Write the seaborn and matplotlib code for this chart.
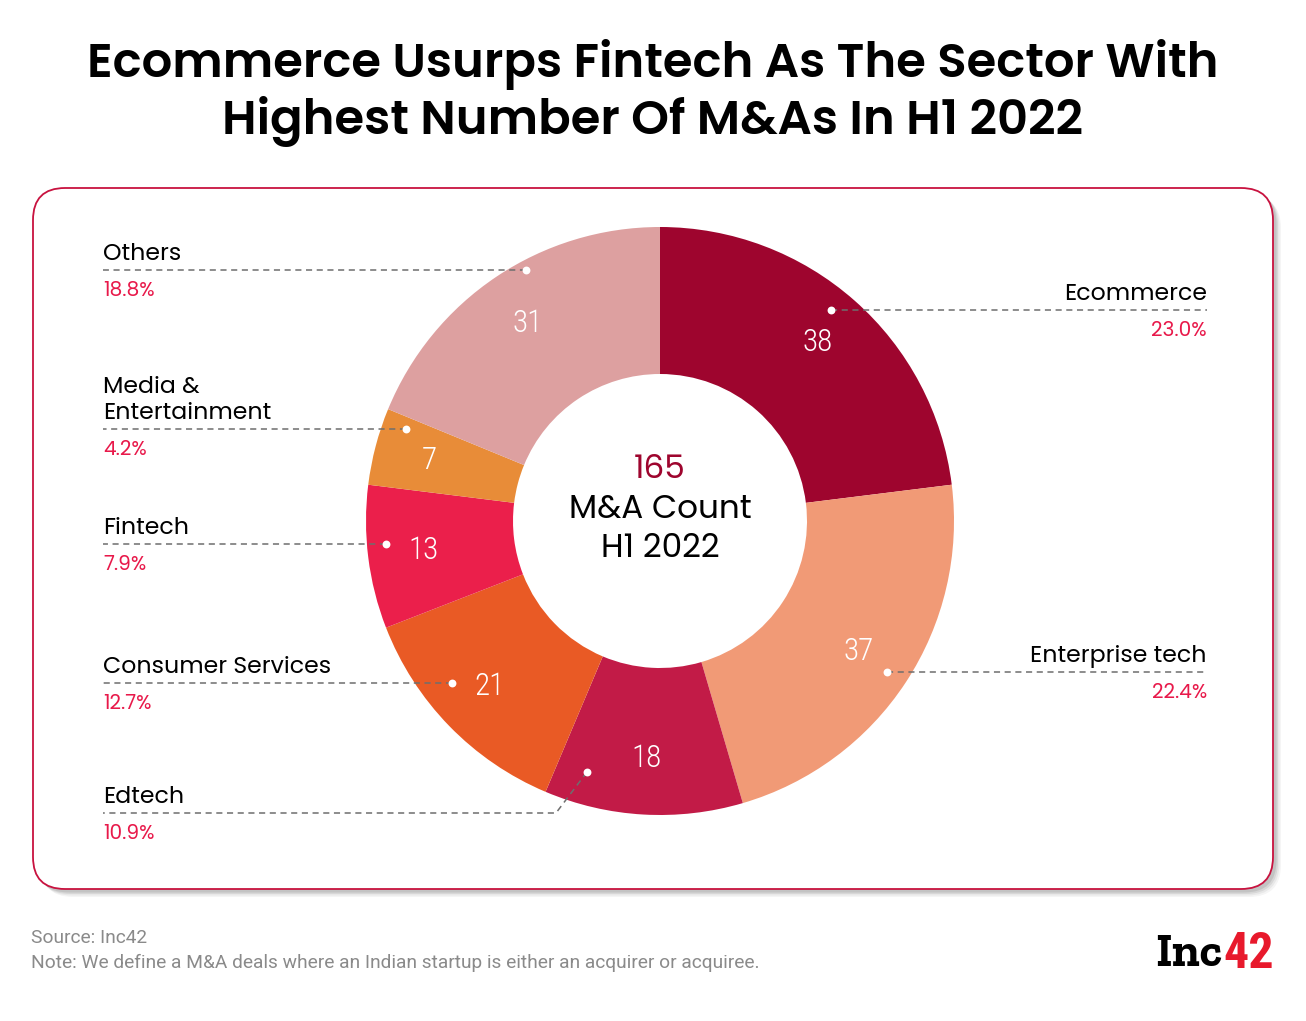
import matplotlib
matplotlib.use("Agg")
import matplotlib.pyplot as plt
from matplotlib.patches import FancyBboxPatch
import seaborn as sns

# ---------------- data ----------------
sectors = ["Ecommerce", "Enterprise tech", "Edtech", "Consumer Services",
           "Fintech", "Media &\nEntertainment", "Others"]
counts = [38, 37, 18, 21, 13, 7, 31]
colors = ["#9E052E", "#F19A76", "#C21B47", "#E95A25", "#EB1F4B", "#E88C38", "#DDA0A0"]
total_label = "165"
center_lines = ["M&A Count", "H1 2022"]
title_lines = ["Ecommerce Usurps Fintech As The Sector With",
               "Highest Number Of M&As In H1 2022"]
source = "Source: Inc42"
note = "Note: We define a M&A deals where an Indian startup is either an acquirer or acquiree."

# ---------------- layout (pixels) ----------------
W, H = 1306, 1021
CX, CY, R = 660, 521, 294
dot_px = [(831, 310), (887, 672), (587, 772), (452, 683), (386, 544), (406, 429), (526, 270)]
line_y = [310, 672, 813, 683, 544, 429, 270]
elbow_x = [831, 887, 556, 452, 386, 406, 526]
side = ["right", "right", "left", "left", "left", "left", "left"]
LEFT_X, RIGHT_X = 103, 1207

sns.set_theme(style="white")
plt.rcParams["font.family"] = ["Poppins", "DejaVu Sans"]

fig = plt.figure(figsize=(W / 100, H / 100), dpi=100)
fig.patch.set_facecolor("white")
ax = fig.add_axes([0, 0, 1, 1])


def Y(p):
    return H - p


# card shadow + card
for i, a in enumerate([0.04, 0.05, 0.07, 0.09]):
    off = 8 - i * 1.5
    ax.add_patch(FancyBboxPatch((33 + off, Y(889) - off), 1240, 701,
                                boxstyle="round,pad=0,rounding_size=32",
                                fc="#000000", ec="none", alpha=a, zorder=0))
ax.add_patch(FancyBboxPatch((33, Y(889)), 1240, 701,
                            boxstyle="round,pad=0,rounding_size=32",
                            fc="white", ec="#C8123F", lw=1.3, zorder=1))

total = sum(counts)
wedges, _, autotexts = ax.pie(
    counts, colors=colors, startangle=90, counterclock=False,
    radius=R, center=(CX, Y(CY)),
    wedgeprops=dict(width=R / 2, edgecolor="none"),
    autopct=lambda p: f"{round(p * total / 100)}", pctdistance=0.81,
    textprops=dict(color="white", fontsize=22.5, family=["Roboto Condensed"],
                   fontweight=300))
for w in wedges:
    w.set_zorder(2)
for t in autotexts:
    t.set_zorder(5)

ax.set_xlim(0, W)
ax.set_ylim(0, H)
ax.set_aspect("equal")
ax.axis("off")

# annotations
for name, c, (dx, dy), ly, ex, sd in zip(sectors, counts, dot_px, line_y, elbow_x, side):
    tx = RIGHT_X if sd == "right" else LEFT_X
    xs = [dx, ex, tx]
    ys = [Y(dy), Y(ly), Y(ly)]
    ax.plot(xs, ys, color="#6E6E6E", lw=1.1, ls=(0, (4, 3)), zorder=3)
    ax.scatter([dx], [Y(dy)], s=32, color="white", zorder=4, linewidths=0)
    ha = "right" if sd == "right" else "left"
    ax.text(tx, Y(ly - 10), name, ha=ha, va="baseline", fontsize=17,
            color="black", linespacing=1.2, zorder=5)
    ax.text(tx, Y(ly + 26), f"{c / total * 100:.1f}%", ha=ha, va="baseline",
            fontsize=14.5, color="#E8194A", zorder=5)

# centre text
ax.text(CX, Y(470), total_label, ha="center", va="center", fontsize=23.5,
        color="#9E052E", zorder=5)
ax.text(CX, Y(510), center_lines[0], ha="center", va="center", fontsize=23.5,
        color="black", zorder=5)
ax.text(CX, Y(549), center_lines[1], ha="center", va="center", fontsize=23.5,
        color="black", zorder=5)

# title
for ty, tl in zip([65, 122], title_lines):
    ax.text(653, Y(ty), tl, ha="center", va="center", fontsize=34.6,
            fontweight=600, color="black")

# footer
ax.text(31, Y(938), source, ha="left", va="center", fontsize=13.8,
        color="#8A8A8A", family=["Roboto"])
ax.text(31, Y(963), note, ha="left", va="center", fontsize=13.8,
        color="#8A8A8A", family=["Roboto"])

# logo
ax.text(1222, Y(955), "Inc", ha="right", va="center", fontsize=34,
        fontweight="bold", color="black", family=["Zilla Slab"])
ax.text(1223, Y(955), "42", ha="left", va="center", fontsize=36,
        fontweight="bold", color="#E8192C", family=["Roboto Condensed"])

fig.savefig("out.png", dpi=100, facecolor="white")
